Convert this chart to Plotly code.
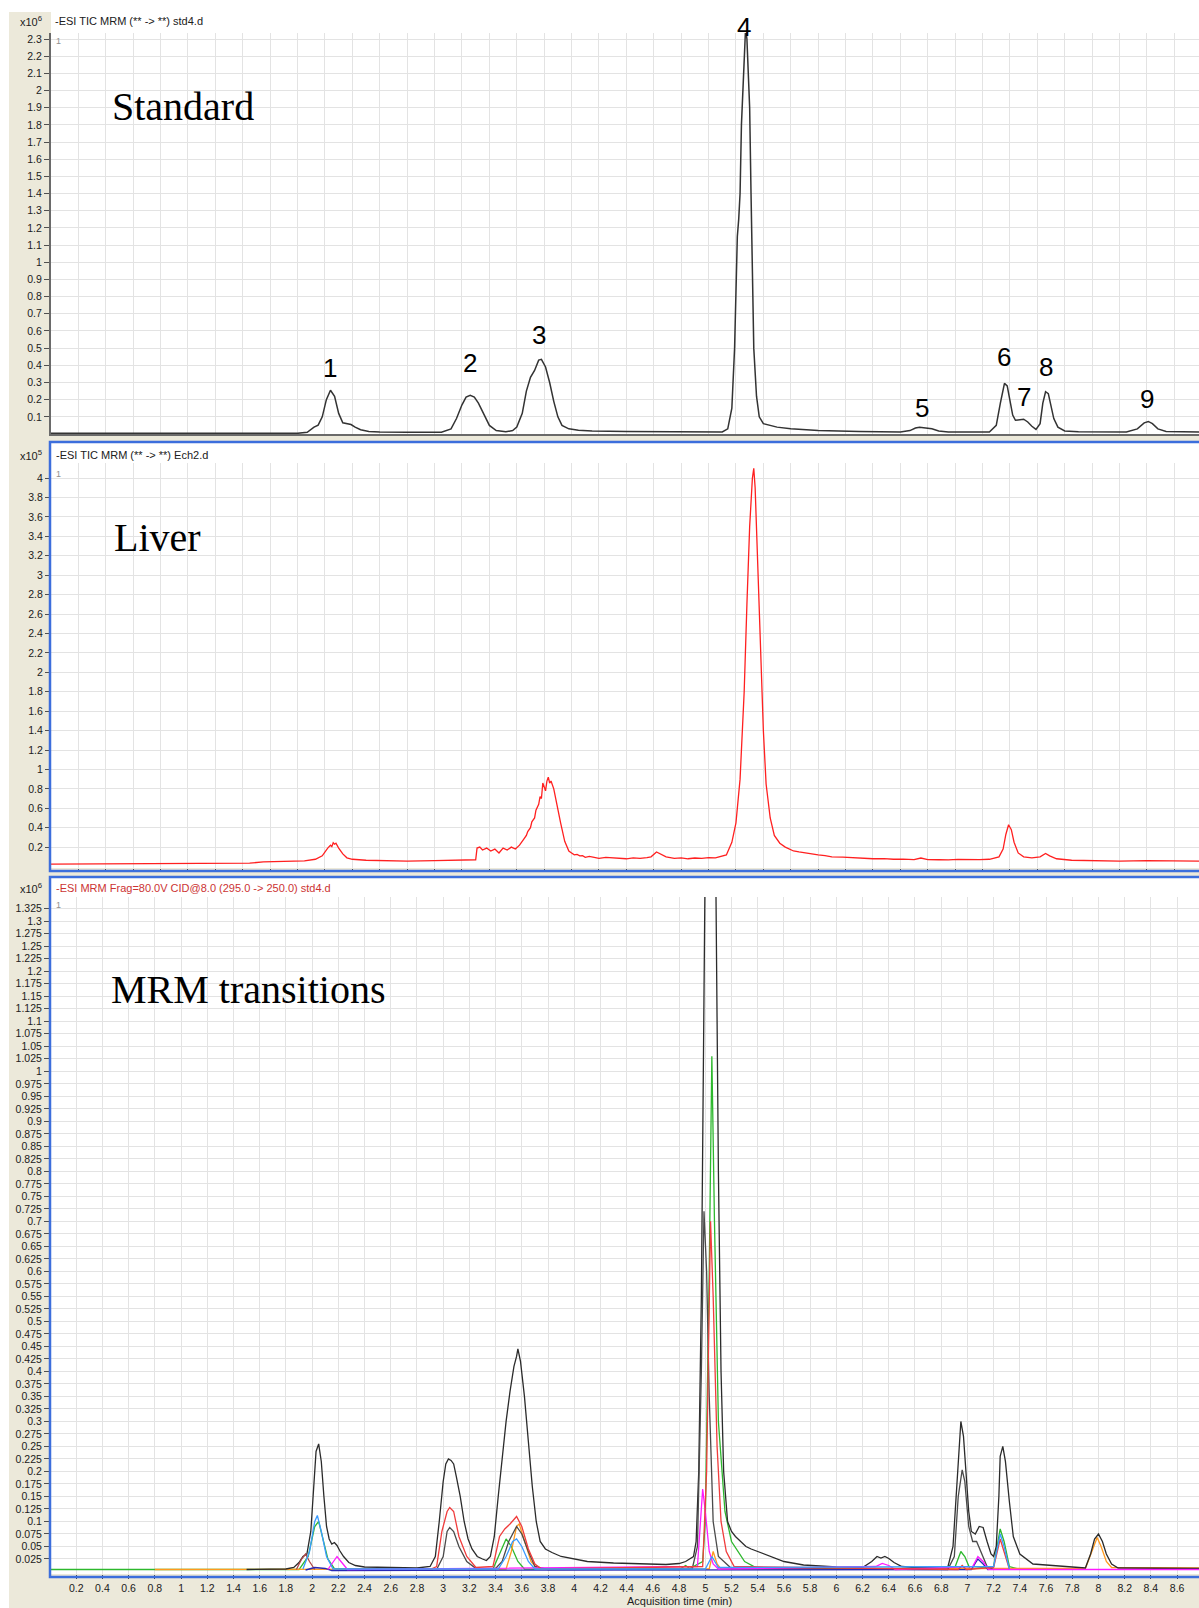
import plotly.graph_objects as go

W, H = 1199, 1608

# ---------------- data ----------------
# panel 1: TIC of the standard, intensity x10^6, time in min
std_tic = [
    (0.00, 0.004), (1.00, 0.004), (1.80, 0.004), (1.87, 0.010), (1.92, 0.040), (1.95, 0.052),
    (1.98, 0.100), (2.01, 0.200), (2.04, 0.255), (2.07, 0.220), (2.10, 0.120), (2.13, 0.065),
    (2.16, 0.058), (2.19, 0.055), (2.22, 0.040), (2.26, 0.025), (2.32, 0.015), (2.40, 0.012),
    (2.60, 0.010), (2.85, 0.010), (2.92, 0.030), (2.96, 0.090), (3.00, 0.170), (3.03, 0.215),
    (3.06, 0.225), (3.09, 0.215), (3.12, 0.180), (3.16, 0.110), (3.20, 0.050), (3.25, 0.020),
    (3.32, 0.013), (3.37, 0.020), (3.40, 0.040), (3.44, 0.120), (3.47, 0.250), (3.50, 0.330),
    (3.53, 0.370), (3.56, 0.430), (3.58, 0.435), (3.61, 0.390), (3.64, 0.300), (3.67, 0.190),
    (3.70, 0.100), (3.73, 0.050), (3.78, 0.030), (3.85, 0.022), (3.95, 0.018), (4.20, 0.015),
    (4.60, 0.013), (4.90, 0.012), (4.94, 0.030), (4.97, 0.150), (4.99, 0.500), (5.00, 0.900),
    (5.01, 1.150), (5.02, 1.250), (5.03, 1.400), (5.04, 1.800), (5.06, 2.250), (5.07, 2.360),
    (5.08, 2.300), (5.10, 1.900), (5.11, 1.400), (5.12, 0.900), (5.13, 0.500), (5.15, 0.220),
    (5.17, 0.100), (5.20, 0.060), (5.25, 0.050), (5.30, 0.040), (5.40, 0.030), (5.60, 0.020),
    (5.90, 0.015), (6.20, 0.012), (6.27, 0.020), (6.31, 0.035), (6.34, 0.039), (6.38, 0.034),
    (6.43, 0.030), (6.48, 0.018), (6.55, 0.012), (6.85, 0.012), (6.90, 0.050), (6.93, 0.180),
    (6.96, 0.295), (6.98, 0.280), (7.00, 0.200), (7.02, 0.110), (7.04, 0.080), (7.07, 0.084),
    (7.10, 0.086), (7.13, 0.070), (7.16, 0.045), (7.19, 0.027), (7.22, 0.060), (7.24, 0.180),
    (7.26, 0.246), (7.28, 0.235), (7.30, 0.170), (7.32, 0.090), (7.35, 0.040), (7.40, 0.018),
    (7.50, 0.013), (7.85, 0.012), (7.93, 0.030), (7.98, 0.065), (8.01, 0.073), (8.04, 0.060),
    (8.08, 0.030), (8.14, 0.015), (8.38, 0.012),
]

# panel 2: TIC of the liver sample, intensity x10^5 (noisy trace)
liver_tic = [
    (0.00, 0.025), (0.30, 0.028), (0.60, 0.026), (0.90, 0.030), (1.20, 0.032), (1.45, 0.035),
    (1.55, 0.048), (1.70, 0.052), (1.85, 0.058), (1.93, 0.075), (1.98, 0.110), (2.02, 0.190),
    (2.04, 0.220), (2.05, 0.205), (2.06, 0.245), (2.07, 0.230), (2.08, 0.240), (2.10, 0.190),
    (2.13, 0.130), (2.16, 0.090), (2.20, 0.075), (2.30, 0.065), (2.45, 0.062), (2.60, 0.056),
    (2.80, 0.060), (2.95, 0.062), (3.08, 0.065), (3.10, 0.070), (3.11, 0.190), (3.13, 0.200),
    (3.15, 0.170), (3.18, 0.190), (3.21, 0.160), (3.24, 0.180), (3.27, 0.140), (3.30, 0.190),
    (3.33, 0.170), (3.36, 0.200), (3.39, 0.180), (3.42, 0.220), (3.45, 0.280), (3.47, 0.320),
    (3.48, 0.360), (3.50, 0.400), (3.51, 0.460), (3.53, 0.500), (3.54, 0.580), (3.56, 0.640),
    (3.57, 0.720), (3.58, 0.700), (3.59, 0.860), (3.60, 0.820), (3.61, 0.780), (3.62, 0.880),
    (3.63, 0.920), (3.64, 0.860), (3.65, 0.880), (3.67, 0.800), (3.69, 0.650), (3.70, 0.600),
    (3.72, 0.450), (3.75, 0.260), (3.78, 0.160), (3.80, 0.140), (3.82, 0.120), (3.84, 0.125),
    (3.86, 0.110), (3.88, 0.112), (3.90, 0.095), (3.93, 0.105), (3.95, 0.100), (3.98, 0.092),
    (4.00, 0.085), (4.05, 0.095), (4.10, 0.090), (4.15, 0.082), (4.20, 0.080), (4.25, 0.090),
    (4.30, 0.085), (4.35, 0.092), (4.38, 0.100), (4.42, 0.150), (4.45, 0.130), (4.49, 0.100),
    (4.55, 0.085), (4.60, 0.090), (4.65, 0.080), (4.70, 0.088), (4.75, 0.085), (4.80, 0.092),
    (4.85, 0.090), (4.93, 0.120), (4.97, 0.250), (5.00, 0.450), (5.03, 0.900), (5.06, 1.800),
    (5.08, 2.700), (5.10, 3.500), (5.12, 4.000), (5.13, 4.100), (5.14, 3.900), (5.16, 3.100),
    (5.18, 2.200), (5.20, 1.400), (5.22, 0.850), (5.25, 0.500), (5.28, 0.320), (5.32, 0.240),
    (5.36, 0.200), (5.40, 0.175), (5.42, 0.160), (5.46, 0.150), (5.50, 0.140), (5.55, 0.130),
    (5.60, 0.120), (5.65, 0.112), (5.70, 0.100), (5.78, 0.098), (5.85, 0.090), (5.92, 0.088),
    (6.00, 0.080), (6.08, 0.082), (6.15, 0.075), (6.22, 0.076), (6.30, 0.072), (6.35, 0.088),
    (6.40, 0.072), (6.48, 0.070), (6.55, 0.068), (6.62, 0.074), (6.70, 0.070), (6.78, 0.072),
    (6.85, 0.075), (6.92, 0.100), (6.95, 0.180), (6.97, 0.330), (6.99, 0.430), (7.01, 0.380),
    (7.03, 0.250), (7.06, 0.140), (7.10, 0.100), (7.16, 0.090), (7.22, 0.100), (7.26, 0.135),
    (7.29, 0.110), (7.34, 0.080), (7.45, 0.065), (7.60, 0.060), (7.80, 0.055), (8.00, 0.060),
    (8.20, 0.055), (8.38, 0.055),
]

# panel 3: individual MRM transitions, intensity x10^6
mrm_black_a = [
    (1.50, 0.004), (1.80, 0.005), (1.86, 0.008), (1.90, 0.018), (1.93, 0.030), (1.96, 0.035),
    (1.99, 0.080), (2.01, 0.160), (2.03, 0.240), (2.05, 0.255), (2.07, 0.220), (2.09, 0.150),
    (2.11, 0.090), (2.13, 0.065), (2.15, 0.055), (2.17, 0.058), (2.19, 0.052), (2.21, 0.042),
    (2.24, 0.030), (2.28, 0.018), (2.33, 0.012), (2.40, 0.009), (2.60, 0.008), (2.80, 0.007),
    (2.90, 0.010), (2.94, 0.030), (2.97, 0.100), (3.00, 0.180), (3.02, 0.215), (3.04, 0.225),
    (3.06, 0.222), (3.08, 0.215), (3.10, 0.190), (3.13, 0.150), (3.16, 0.100), (3.19, 0.065),
    (3.22, 0.045), (3.26, 0.030), (3.30, 0.025), (3.33, 0.022), (3.36, 0.030), (3.39, 0.070),
    (3.42, 0.150), (3.45, 0.230), (3.48, 0.300), (3.51, 0.360), (3.54, 0.410), (3.56, 0.430),
    (3.57, 0.445), (3.59, 0.420), (3.62, 0.350), (3.65, 0.260), (3.68, 0.170), (3.71, 0.100),
    (3.74, 0.060), (3.78, 0.045), (3.83, 0.038), (3.90, 0.030), (4.00, 0.025), (4.10, 0.020),
    (4.30, 0.017), (4.50, 0.015), (4.70, 0.014), (4.80, 0.016), (4.85, 0.020), (4.88, 0.025),
    (4.91, 0.030), (4.93, 0.060), (4.95, 0.200), (4.97, 0.550), (4.985, 1.000), (4.995, 1.300),
    (5.005, 1.600), (5.04, 1.700), (5.07, 1.600), (5.08, 1.400), (5.09, 1.100), (5.10, 0.800),
    (5.12, 0.400), (5.14, 0.200), (5.17, 0.100), (5.20, 0.080), (5.23, 0.070), (5.27, 0.060),
    (5.31, 0.050), (5.35, 0.045), (5.40, 0.040), (5.45, 0.035), (5.50, 0.030), (5.60, 0.020),
    (5.75, 0.013), (6.00, 0.009), (6.20, 0.008), (6.27, 0.020), (6.31, 0.030), (6.34, 0.027),
    (6.37, 0.030), (6.40, 0.026), (6.44, 0.018), (6.50, 0.010), (6.60, 0.008), (6.85, 0.008),
    (6.89, 0.050), (6.92, 0.180), (6.94, 0.280), (6.95, 0.300), (6.97, 0.270), (6.99, 0.190),
    (7.01, 0.120), (7.03, 0.080), (7.06, 0.075), (7.09, 0.090), (7.12, 0.088), (7.15, 0.060),
    (7.18, 0.035), (7.20, 0.030), (7.22, 0.050), (7.24, 0.150), (7.25, 0.230), (7.27, 0.250),
    (7.29, 0.220), (7.32, 0.140), (7.35, 0.070), (7.40, 0.035), (7.50, 0.015), (7.90, 0.007),
    (7.94, 0.035), (7.97, 0.065), (8.00, 0.075), (8.03, 0.060), (8.06, 0.035), (8.10, 0.015),
    (8.15, 0.007), (8.77, 0.006),
]
mrm_black_b = [
    (2.95, 0.004), (3.00, 0.030), (3.03, 0.080), (3.05, 0.088), (3.08, 0.080), (3.12, 0.050),
    (3.18, 0.020), (3.25, 0.006), (3.40, 0.006), (3.45, 0.020), (3.50, 0.060), (3.56, 0.090),
    (3.60, 0.075), (3.65, 0.040), (3.70, 0.010), (3.80, 0.004), (4.90, 0.005), (4.94, 0.050),
    (4.97, 0.400), (4.99, 0.720), (5.01, 0.600), (5.03, 0.350), (5.06, 0.100), (5.10, 0.030),
    (5.20, 0.006), (6.85, 0.004), (6.90, 0.030), (6.93, 0.150), (6.96, 0.203), (6.98, 0.180),
    (7.01, 0.090), (7.04, 0.060), (7.07, 0.060), (7.10, 0.040), (7.15, 0.010), (7.20, 0.004),
]
mrm_green = [
    (0.00, 0.004), (0.80, 0.004), (1.90, 0.004), (1.97, 0.030), (2.02, 0.090), (2.05, 0.100),
    (2.08, 0.070), (2.12, 0.025), (2.17, 0.006), (3.38, 0.005), (3.43, 0.035), (3.48, 0.065),
    (3.52, 0.050), (3.57, 0.020), (3.62, 0.005), (4.80, 0.004), (4.85, 0.012), (4.88, 0.006),
    (4.98, 0.020), (5.00, 0.100), (5.03, 0.600), (5.05, 1.030), (5.07, 0.700), (5.10, 0.300),
    (5.15, 0.120), (5.20, 0.060), (5.30, 0.020), (5.40, 0.006), (6.90, 0.005), (6.95, 0.040),
    (6.98, 0.030), (7.02, 0.005), (7.20, 0.010), (7.25, 0.085), (7.28, 0.060), (7.32, 0.010),
    (7.40, 0.004),
]
mrm_lightblue = [
    (1.93, 0.005), (1.98, 0.040), (2.02, 0.100), (2.04, 0.112), (2.07, 0.080), (2.11, 0.030),
    (2.16, 0.005), (3.42, 0.005), (3.48, 0.030), (3.53, 0.060), (3.56, 0.065), (3.60, 0.050),
    (3.65, 0.020), (3.70, 0.005), (5.00, 0.005), (5.05, 0.030), (5.10, 0.008), (7.20, 0.010),
    (7.25, 0.075), (7.28, 0.050), (7.32, 0.005),
]
mrm_red = [
    (2.90, 0.004), (2.95, 0.010), (2.99, 0.080), (3.03, 0.120), (3.05, 0.128), (3.08, 0.120),
    (3.12, 0.070), (3.18, 0.030), (3.25, 0.008), (3.38, 0.010), (3.43, 0.070), (3.47, 0.085),
    (3.51, 0.095), (3.56, 0.110), (3.60, 0.090), (3.65, 0.045), (3.70, 0.015), (3.75, 0.005),
    (4.98, 0.010), (5.01, 0.200), (5.04, 0.700), (5.06, 0.550), (5.09, 0.250), (5.12, 0.100),
    (5.16, 0.040), (5.22, 0.010), (6.93, 0.004), (6.96, 0.012), (6.99, 0.004), (7.20, 0.008),
    (7.25, 0.065), (7.28, 0.040), (7.32, 0.005),
]
mrm_orange = [
    (0.80, 0.004), (1.50, 0.004), (3.48, 0.005), (3.52, 0.040), (3.56, 0.090), (3.58, 0.095),
    (3.62, 0.060), (3.67, 0.020), (3.72, 0.005), (5.03, 0.005), (5.06, 0.040), (5.09, 0.015),
    (5.12, 0.005), (5.90, 0.006), (7.90, 0.006), (7.95, 0.040), (7.99, 0.068), (8.02, 0.050),
    (8.06, 0.020), (8.10, 0.008), (8.77, 0.007),
]
mrm_magenta = [
    (2.12, 0.004), (2.16, 0.020), (2.19, 0.030), (2.22, 0.020), (2.27, 0.004), (4.94, 0.010),
    (4.96, 0.100), (4.98, 0.165), (5.00, 0.120), (5.03, 0.040), (5.06, 0.015), (5.10, 0.005),
    (6.30, 0.010), (6.35, 0.016), (6.40, 0.012), (6.45, 0.004), (7.04, 0.010), (7.08, 0.030),
    (7.12, 0.020), (7.16, 0.004), (7.97, 0.004), (8.40, 0.004), (8.77, 0.004),
]
mrm_brown = [
    (1.88, 0.004), (1.92, 0.025), (1.95, 0.035), (1.98, 0.020), (2.02, 0.004),
]
mrm_darkblue = [
    (1.95, 0.003), (2.02, 0.008), (2.10, 0.006), (2.15, 0.002), (7.03, 0.004), (7.08, 0.025),
    (7.12, 0.015), (7.16, 0.003),
]

mrm_traces = [
    (mrm_green, "#2DB82D"), (mrm_orange, "#FF9A1E"), (mrm_black_a, "#2B2B2B"),
    (mrm_black_b, "#4A4A4A"), (mrm_brown, "#B04848"), (mrm_darkblue, "#2828B4"),
    (mrm_magenta, "#FF19FF"), (mrm_red, "#F03C3C"), (mrm_lightblue, "#3A9BFF"),
]

# peak numbers in panel 1 (time, height x10^6)
peak_names = ["1", "2", "3", "4", "5", "6", "7", "8", "9"]
peak_x = [2.04, 3.06, 3.56, 5.06, 6.36, 6.96, 7.10, 7.26, 8.00]
peak_y = [0.384, 0.413, 0.574, 2.372, 0.153, 0.447, 0.217, 0.388, 0.202]

# axis ticks
p1_yticks = [round(0.1 * i, 1) for i in range(1, 24)]
p2_yticks = [round(0.2 * i, 1) for i in range(1, 21)]
p3_yticks = [round(0.025 * i, 3) for i in range(1, 54)]
x_ticks = [round(0.2 * i, 1) for i in range(1, 44)]


def lbl(v):
    return f"{v:.3f}".rstrip("0").rstrip(".")


def fx(px):
    return px / W


def fy(py):
    return 1 - py / H


BEIGE = "#ECE9DA"
GRID = "#E3E3E3"
BLUE = "#3C6EDC"
FONT = "Liberation Sans"

# panel geometry in pixels
p1_top, p1_bot = 33, 434
p2_top, p2_bot = 463, 868
p3_top, p3_bot = 897, 1574
p1_range = [0, 2.335]

fig = go.Figure()

t, v = zip(*std_tic)
fig.add_trace(go.Scatter(x=t, y=v, mode="lines", line=dict(color="#333333", width=1.5),
                         xaxis="x", yaxis="y", hoverinfo="skip"))
t, v = zip(*liver_tic)
fig.add_trace(go.Scatter(x=t, y=v, mode="lines", line=dict(color="#FF2020", width=1.3),
                         xaxis="x2", yaxis="y2", hoverinfo="skip"))
for pts, col in mrm_traces:
    t, v = zip(*pts)
    fig.add_trace(go.Scatter(x=t, y=v, mode="lines", line=dict(color=col, width=1.3),
                             xaxis="x3", yaxis="y3", hoverinfo="skip"))

common_y = dict(ticks="outside", ticklen=5, tickcolor="#505050", showgrid=True, gridcolor=GRID,
                gridwidth=1, zeroline=False, tickfont=dict(family=FONT, size=10.5, color="#202020"),
                fixedrange=True)
common_x = dict(showgrid=True, gridcolor=GRID, gridwidth=1, zeroline=False, fixedrange=True,
                tickvals=x_ticks)

fig.update_layout(
    width=W, height=H, margin=dict(l=0, r=0, t=0, b=0),
    paper_bgcolor=BEIGE, plot_bgcolor="white", showlegend=False,
    xaxis=dict(domain=[fx(51), 1], range=[0, 8.38], anchor="y", showticklabels=False,
               showline=True, linecolor="#6A6A6A", linewidth=1.5, **common_x),
    yaxis=dict(domain=[fy(p1_bot), fy(p1_top)], range=p1_range, anchor="x",
               tickvals=p1_yticks, ticktext=[lbl(v) for v in p1_yticks],
               showline=True, linecolor="#6A6A6A", linewidth=2, **common_y),
    xaxis2=dict(domain=[fx(51), 1], range=[0, 8.38], anchor="y2", showticklabels=False,
                ticks="outside", ticklen=3, tickcolor="#404040", **common_x),
    yaxis2=dict(domain=[fy(p2_bot), fy(p2_top)], range=[-0.015, 4.155], anchor="x2",
                tickvals=p2_yticks, ticktext=[lbl(v) for v in p2_yticks], **common_y),
    xaxis3=dict(domain=[fx(50), 1], range=[0, 8.767], anchor="y3",
                ticktext=[lbl(v) for v in x_ticks], ticks="outside", ticklen=4,
                tickcolor="#404040", tickfont=dict(family=FONT, size=10.5, color="#202020"),
                **common_x),
    yaxis3=dict(domain=[fy(p3_bot), fy(p3_top)], range=[-0.005, 1.3485], anchor="x3",
                tickvals=p3_yticks, ticktext=[lbl(v) for v in p3_yticks], **common_y),
)


def rect(x0, y0, x1, y1, **kw):
    return dict(type="rect", xref="paper", yref="paper", x0=fx(x0), x1=fx(x1),
                y0=fy(y1), y1=fy(y0), **kw)


shapes = [
    # white page margins and header strips
    rect(0, 0, W, 12, fillcolor="white", line_width=0, layer="below"),
    rect(0, 0, 9, H, fillcolor="white", line_width=0, layer="below"),
    rect(51, 12, W, p1_top, fillcolor="white", line_width=0, layer="below"),
    rect(51, 443, W, p2_top, fillcolor="white", line_width=0, layer="below"),
    rect(51, 878, W, p3_top, fillcolor="white", line_width=0, layer="below"),
    # blue frames of panels 2 and 3
    rect(50, 442, W + 3, 871, line=dict(color=BLUE, width=2.5), fillcolor="rgba(0,0,0,0)",
         layer="above"),
    rect(50, 877, W + 3, 1577, line=dict(color=BLUE, width=2.5), fillcolor="rgba(0,0,0,0)",
         layer="above"),
]
fig.update_layout(shapes=shapes)

ann = []


def text(x, y, s, size=11, color="#202020", family=FONT, xanchor="left"):
    ann.append(dict(x=fx(x), y=fy(y), xref="paper", yref="paper", text=s, showarrow=False,
                    xanchor=xanchor, yanchor="middle", font=dict(family=family, size=size, color=color)))


text(31, 21, "x10<sup>6</sup>", xanchor="center")
text(31, 455, "x10<sup>5</sup>", xanchor="center")
text(31, 888, "x10<sup>6</sup>", xanchor="center")
text(53, 21, "-ESI TIC MRM (** -> **) std4.d")
text(54, 455, "-ESI TIC MRM (** -> **) Ech2.d")
text(54, 888, "-ESI MRM Frag=80.0V CID@8.0 (295.0 -> 250.0) std4.d", color="#CC3333")
text(54, 41, "1", size=9, color="#909090")
text(54, 474, "1", size=9, color="#909090")
text(54, 905, "1", size=9, color="#909090")
text(110, 106, "Standard", size=40, color="black", family="Liberation Serif")
text(112, 538, "Liver", size=40, color="black", family="Liberation Serif")
text(109, 990, "MRM transitions", size=40, color="black", family="Liberation Serif")
text(679, 1601, "Acquisition time (min)", size=11, xanchor="center")

# peak numbers: x in data units, y mapped to paper so the label above the top is kept
p1_scale = (p1_bot - p1_top) / (p1_range[1] - p1_range[0])
for name, x, y in zip(peak_names, peak_x, peak_y):
    ann.append(dict(x=x, y=fy(p1_bot - (y - p1_range[0]) * p1_scale), xref="x", yref="paper",
                    text=name, showarrow=False, yanchor="middle",
                    font=dict(family=FONT, size=26, color="black")))

fig.update_layout(annotations=ann)

fig.write_html("out.html", config={"displayModeBar": False},
               post_script="document.body.style.margin='0';")
